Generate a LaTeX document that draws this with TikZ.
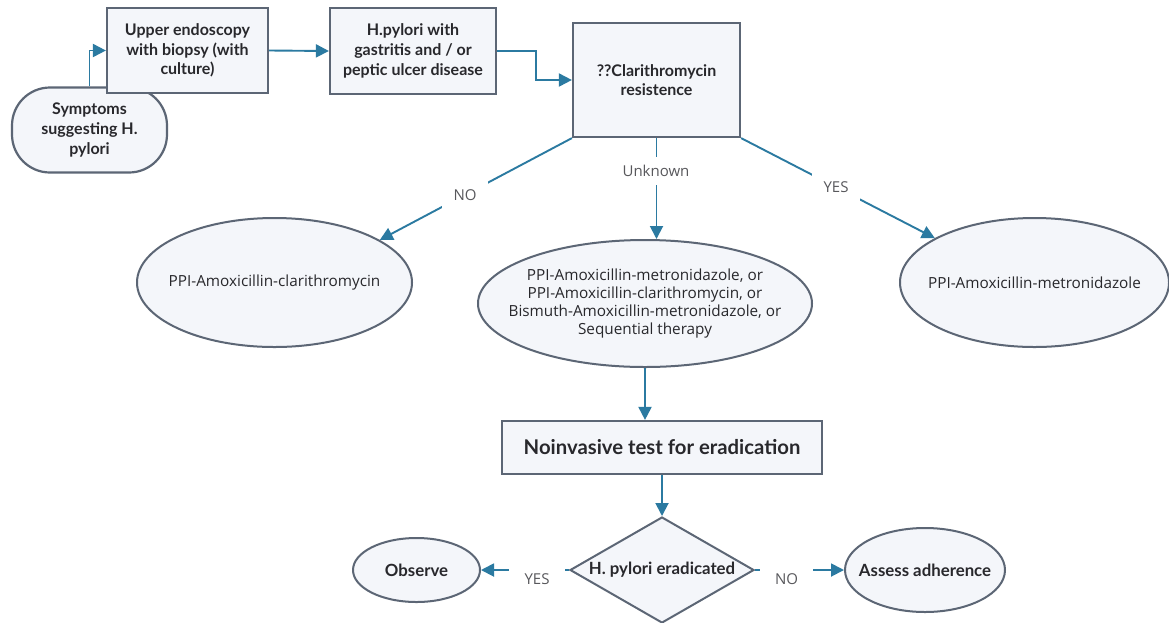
\documentclass[tikz,border=0pt]{standalone}
\usepackage{fontspec}
\setmainfont{Open Sans}
\newfontfamily\latofont{Lato}
\usetikzlibrary{shapes.geometric,arrows.meta}
\definecolor{arrc}{RGB}{43,122,161}
\definecolor{bordc}{RGB}{92,102,117}
\definecolor{fillc}{RGB}{244,246,250}
\definecolor{txtc}{RGB}{40,40,44}
\definecolor{lblc}{RGB}{88,88,92}
\begin{document}
\begin{tikzpicture}[x=1pt,y=-1pt,
  box/.style={rectangle, draw=bordc, fill=fillc, line width=2.2pt, align=center, inner sep=2pt,
    text=txtc, font=\latofont\bfseries\fontsize{16}{19.7}\selectfont},
  oval/.style={ellipse, draw=bordc, fill=fillc, line width=2pt, inner sep=0pt},
  otext/.style={label={[align=center, text=txtc, font=\fontsize{15.3}{18.3}\selectfont]center:#1}},
  btext/.style={label={[align=center, text=txtc, font=\latofont\bfseries\fontsize{16.8}{20}\selectfont]center:#1}},
  arr/.style={draw=arrc, line width=1.9pt, -{Triangle[length=13pt,width=13pt]}},
  lbl/.style={fill=white, text=lblc, inner sep=0pt, font=\fontsize{15}{17}\selectfont}]
\useasboundingbox (0,0) rectangle (1169,622);
\fill[white] (0,0) rectangle (1169,622);

% nodes
\node[box, rounded corners=38pt, minimum width=155pt, minimum height=85pt] (sym) at (89.5,130) {Symptoms\\suggesting H.\\pylori};
\node[box, minimum width=161pt, minimum height=85pt] (endo) at (187.5,50.5) {Upper endoscopy\\with biopsy (with\\culture)};
\node[box, minimum width=166pt, minimum height=86pt] (hp) at (413,51) {H.pylori with\\gastritis and / or\\peptic ulcer disease};
\node[box, minimum width=167pt, minimum height=114pt] (clar) at (656.5,80) {??Clarithromycin\\resistence};

\node[oval, minimum width=275pt, minimum height=129pt, otext={PPI-Amoxicillin-clarithromycin}] (left) at (274.5,282.5) {};
\node[oval, minimum width=334pt, minimum height=127pt, otext={PPI-Amoxicillin-metronidazole, or\\PPI-Amoxicillin-clarithromycin, or\\Bismuth-Amoxicillin-metronidazole, or\\Sequential therapy}] (mid) at (645,303.5) {};
\node[oval, minimum width=269pt, minimum height=129pt, otext={PPI-Amoxicillin-metronidazole}] (right) at (1034.5,282.5) {};

\node[box, minimum width=320pt, minimum height=53pt, font=\latofont\bfseries\fontsize{20.3}{24}\selectfont] (test) at (662,447.5) {Noinvasive test for eradication};

\node[diamond, draw=bordc, fill=fillc, line width=2pt, inner sep=0pt, minimum width=184pt, minimum height=106pt, btext={H. pylori eradicated}] (dia) at (662,570) {};
\node[oval, minimum width=127pt, minimum height=64pt, btext={Observe}] (obs) at (416.5,570) {};
\node[oval, minimum width=160pt, minimum height=84pt, btext={Assess adherence}] (ass) at (925,570) {};

% connectors
\draw[arr] (sym.north) |- (endo.west);
\draw[arr] (endo.east) -- (hp.west);
\draw[arr] (hp.east) -- ++(39,0) |- (clar.west);
\draw[arr] (clar.south west) -- (left.22);
\draw[arr] (clar.south east) -- (right.156);
\draw[arr] (clar.south) -- (clar.south |- mid.north);
\draw[arr] (mid.south) -- (mid.south |- test.north);
\draw[arr] (test.south) -- (dia.north);
\draw[arr] (dia.west) -- (obs.east);
\draw[arr] (dia.east) -- (ass.west);

% labels
\node[lbl, minimum width=46pt, minimum height=28pt] (lno) at (465,195) {NO};
\node[lbl, minimum width=48pt, minimum height=30pt] (lyes) at (836,187) {YES};
\node[lbl, minimum height=28pt, inner xsep=4pt] (lunk) at (656,171) {Unknown};
\node[lbl, minimum width=56pt, minimum height=24pt] (lyes2) at (537,579) {YES};
\node[lbl, minimum width=53pt, minimum height=24pt] (lno2) at (786.5,579) {NO};
\end{tikzpicture}
\end{document}
